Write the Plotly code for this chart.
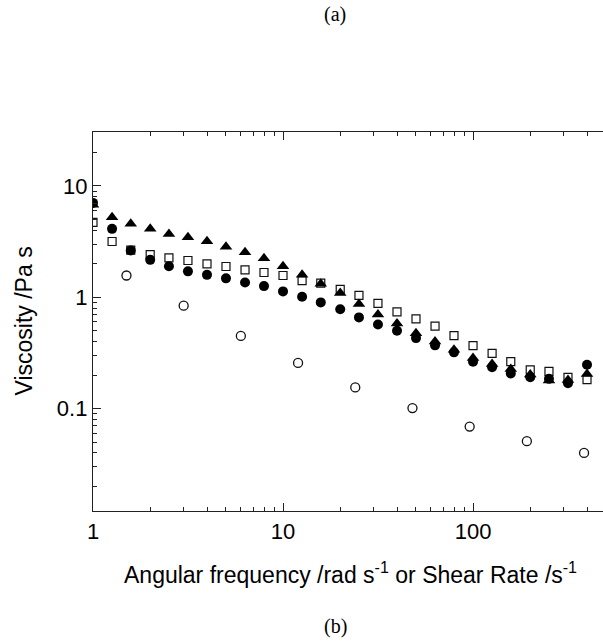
import plotly.graph_objects as go

# Frequency sweep (rad/s)
freq = [1, 1.26, 1.58, 2, 2.51, 3.16, 3.98, 5.01, 6.31, 7.94, 10, 12.6, 15.8, 20,
        25.1, 31.6, 39.8, 50.1, 63.1, 79.4, 100, 126, 158, 200, 251, 316, 398]
visc_filled_circle = [7.05, 4.12, 2.63, 2.17, 1.90, 1.71, 1.59, 1.48, 1.36, 1.26, 1.13,
                      1.01, 0.90, 0.78, 0.66, 0.57, 0.50, 0.43, 0.37, 0.32, 0.264, 0.235,
                      0.207, 0.191, 0.185, 0.169, 0.248]
visc_triangle = [6.8, 5.23, 4.57, 4.12, 3.71, 3.46, 3.18, 2.85, 2.54, 2.24, 1.90, 1.59,
                 1.32, 1.09, 0.87, 0.70, 0.58, 0.475, 0.40, 0.337, 0.285, 0.252, 0.227,
                 0.202, 0.179, 0.181, 0.205]
visc_square = [4.72, 3.17, 2.65, 2.42, 2.26, 2.14, 2.0, 1.89, 1.76, 1.67, 1.57, 1.41,
               1.34, 1.18, 1.04, 0.88, 0.74, 0.64, 0.55, 0.453, 0.368, 0.314, 0.264,
               0.223, 0.216, 0.191, 0.182]

# Steady shear
shear_rate = [1.5, 3, 6, 12, 24, 48, 96, 192, 384]
visc_open_circle = [1.57, 0.84, 0.45, 0.257, 0.155, 0.101, 0.069, 0.051, 0.040]

x_tick_vals = [1, 10, 100]
x_tick_text = ["1", "10", "100"]
y_tick_vals = [0.1, 1, 10]
y_tick_text = ["0.1", "1", "10"]

W, H = 603, 643
ML, MR, MT, MB = 93, 0, 132, 132
PW, PH = W - ML - MR, H - MT - MB

fig = go.Figure()
fig.add_trace(go.Scatter(x=freq, y=visc_square, mode="markers", name="square",
                         marker=dict(symbol="square-open", size=8, color="#111",
                                     line=dict(width=1.2, color="#111"))))
fig.add_trace(go.Scatter(x=freq, y=visc_triangle, mode="markers", name="triangle",
                         marker=dict(symbol="triangle-up", size=11, color="black",
                                     line=dict(width=0))))
fig.add_trace(go.Scatter(x=freq, y=visc_filled_circle, mode="markers", name="circle",
                         marker=dict(symbol="circle", size=10, color="black",
                                     line=dict(width=0))))
fig.add_trace(go.Scatter(x=shear_rate, y=visc_open_circle, mode="markers", name="open",
                         marker=dict(symbol="circle-open", size=9, color="#111",
                                     line=dict(width=1.3, color="#111"))))

font_sans = "Liberation Sans, Arial, sans-serif"
axis_col = "#222"

fig.update_layout(
    width=W, height=H, margin=dict(l=ML, r=MR, t=MT, b=MB),
    paper_bgcolor="white", plot_bgcolor="white", showlegend=False,
    font=dict(family=font_sans, size=22, color="black"),
    xaxis=dict(type="log", range=[0, 2.684], showgrid=False, zeroline=False,
               showline=True, linecolor=axis_col, linewidth=1.3, mirror="ticks",
               ticks="inside", ticklen=8, tickwidth=1.3, tickcolor=axis_col,
               tickvals=x_tick_vals, ticktext=x_tick_text,
               minor=dict(ticks="inside", ticklen=4, tickwidth=1.2, tickcolor=axis_col,
                          dtick="D1", showgrid=False),
               tickfont=dict(size=22)),
    yaxis=dict(type="log", range=[-1.92, 1.485], showgrid=False, zeroline=False,
               showline=True, linecolor=axis_col, linewidth=1.3, mirror=False,
               ticks="inside", ticklen=8, tickwidth=1.3, tickcolor=axis_col,
               tickvals=y_tick_vals, ticktext=y_tick_text,
               minor=dict(ticks="inside", ticklen=4, tickwidth=1.2, tickcolor=axis_col,
                          dtick="D1", showgrid=False),
               tickfont=dict(size=22)),
    yaxis2=dict(type="log", range=[-1.92, 1.485], overlaying="y", side="right",
                anchor="x", showgrid=False, zeroline=False, showline=False,
                ticks="inside", ticklen=5, tickwidth=1.3, tickcolor=axis_col,
                tickvals=y_tick_vals, showticklabels=False),
)

fig.add_annotation(text="Viscosity /Pa s", xref="paper", yref="paper",
                   x=(23 - ML) / PW, y=0.5, textangle=-90, showarrow=False,
                   xanchor="center", yanchor="middle",
                   font=dict(family=font_sans, size=23, color="black"))
fig.add_annotation(text="Angular frequency /rad s<sup>-1</sup> or Shear Rate /s<sup>-1</sup>",
                   xref="paper", yref="paper", x=(350 - ML) / PW, y=-(573 - (H - MB)) / PH,
                   showarrow=False, xanchor="center", yanchor="middle",
                   font=dict(family=font_sans, size=23, color="black"))
fig.add_annotation(text="(a)", xref="paper", yref="paper",
                   x=(335 - ML) / PW, y=1 + (MT - 15) / PH, showarrow=False,
                   xanchor="center", yanchor="middle",
                   font=dict(family="Liberation Serif, Times New Roman, serif", size=20,
                             color="black"))
fig.add_annotation(text="(b)", xref="paper", yref="paper",
                   x=(335 - ML) / PW, y=-(626 - (H - MB)) / PH, showarrow=False,
                   xanchor="center", yanchor="middle",
                   font=dict(family="Liberation Serif, Times New Roman, serif", size=20,
                             color="black"))

fig.write_html("out.html")
